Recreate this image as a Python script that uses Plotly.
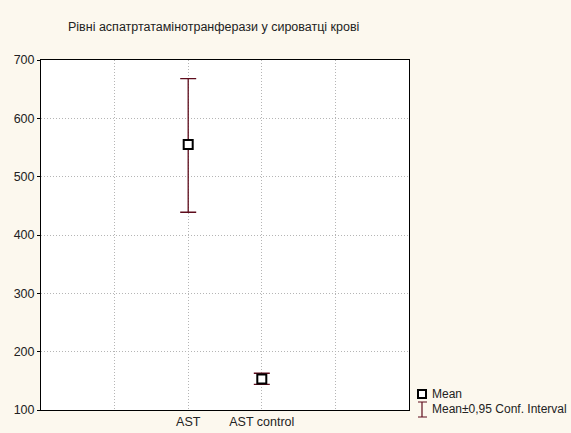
import plotly.graph_objects as go

categories = ["AST", "AST control"]
means = [555, 153]
upper = [668, 163]
lower = [439, 144]
y_ticks = [100, 200, 300, 400, 500, 600, 700]

x_pos = [i + 2 for i in range(len(categories))]
err_plus = [u - m for u, m in zip(upper, means)]
err_minus = [m - l for m, l in zip(means, lower)]

ERR = "#5e0c1c"
FONT = "Liberation Sans, Arial, sans-serif"
FS = 12.5

fig = go.Figure()
fig.add_trace(go.Scatter(
    x=x_pos, y=means, mode="markers", showlegend=False,
    marker=dict(symbol="square", size=9, color="white", line=dict(color="black", width=2)),
    error_y=dict(type="data", symmetric=False, array=err_plus, arrayminus=err_minus,
                 color=ERR, thickness=1.3, width=8),
))

grid = dict(showgrid=True, gridcolor="#b5b5b5", griddash="1px,2px", gridwidth=1,
            showline=True, linecolor="black", linewidth=1, mirror=True, zeroline=False,
            automargin=False)

fig.update_layout(
    width=571, height=433,
    margin=dict(l=41, r=162, t=60, b=23),
    paper_bgcolor="#fcf8ee", plot_bgcolor="white",
    font=dict(family=FONT, size=FS, color="#222"),
    xaxis=dict(range=[0, 5], tickvals=[1, 2, 3, 4], ticktext=["", categories[0], categories[1], ""],
               ticks="", tickfont=dict(size=FS), **grid),
    yaxis=dict(range=[100, 700], tickvals=y_ticks,
               ticks="outside", ticklen=3, tickcolor="black",
               tickfont=dict(size=FS), **grid),
)

def px(x):
    return (x - 41) / 368

def py(y):
    return (410 - y) / 350

fig.add_annotation(xref="paper", yref="paper", x=px(66), y=py(27), xanchor="left", yanchor="middle",
                   text="Рівні аспатртатамінотранферази у сироватці крові", showarrow=False,
                   font=dict(size=FS, color="#222"))

# legend (manual)
fig.add_shape(type="rect", xref="paper", yref="paper", x0=px(418), x1=px(426), y0=py(398), y1=py(390),
              line=dict(color="black", width=2), fillcolor="white")
fig.add_shape(type="line", xref="paper", yref="paper", x0=px(422), x1=px(422), y0=py(402), y1=py(417),
              line=dict(color=ERR, width=1.2))
fig.add_shape(type="line", xref="paper", yref="paper", x0=px(418), x1=px(427), y0=py(402), y1=py(402),
              line=dict(color=ERR, width=1))
fig.add_shape(type="line", xref="paper", yref="paper", x0=px(418), x1=px(427), y0=py(417), y1=py(417),
              line=dict(color=ERR, width=1))
fig.add_annotation(xref="paper", yref="paper", x=px(430), y=py(394), xanchor="left", yanchor="middle",
                   text="Mean", showarrow=False, font=dict(size=12, color="#222"))
fig.add_annotation(xref="paper", yref="paper", x=px(430), y=py(409), xanchor="left", yanchor="middle",
                   text="Mean±0,95 Conf. Interval", showarrow=False, font=dict(size=12, color="#222"))

fig.write_html("out.html", config={"displayModeBar": False},
               post_script="document.body.style.margin='0';")
